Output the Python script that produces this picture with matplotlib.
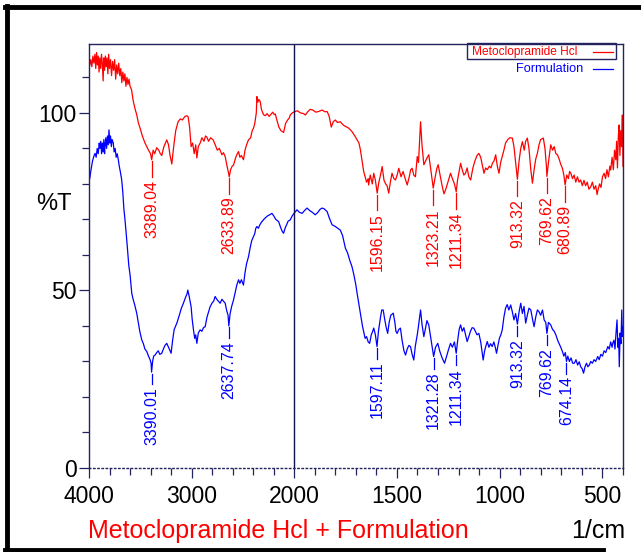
import numpy as np
import matplotlib
matplotlib.use("Agg")
import matplotlib.pyplot as plt
from matplotlib.lines import Line2D
from matplotlib.patches import Rectangle

plt.rcParams['font.family'] = ['Liberation Sans Narrow', 'Liberation Sans', 'DejaVu Sans']

# Metoclopramide Hcl spectrum (wavenumber, %T)
red_wn = [3992, 3982, 3972, 3962, 3952, 3942, 3934, 3926, 3918, 3910, 3902, 3894, 3886, 3878, 3870, 3862,
          3855, 3848, 3840, 3832, 3824, 3816, 3808, 3800, 3790, 3780, 3770, 3760, 3750, 3740, 3730, 3720,
          3710, 3700, 3690, 3680, 3670, 3660, 3650, 3640, 3630, 3620, 3610, 3600, 3585, 3570, 3550, 3535,
          3519, 3500, 3480, 3454, 3437, 3420, 3400, 3389.04, 3375, 3360, 3340, 3320, 3305, 3291, 3270, 3242,
          3225, 3210, 3193, 3175, 3155, 3132, 3110, 3090, 3065, 3045, 3034, 3020, 3005, 2990, 2975, 2960,
          2949, 2935, 2917, 2900, 2880, 2865, 2852, 2835, 2815, 2790, 2770, 2750, 2730, 2705, 2690, 2673,
          2655, 2640, 2633.89, 2620, 2605, 2592, 2570, 2555, 2543, 2530, 2515, 2495, 2480, 2465, 2446, 2425,
          2410, 2397, 2385, 2370, 2364, 2355, 2345, 2332, 2320, 2300, 2283, 2265, 2245, 2230, 2210, 2195,
          2185, 2170, 2150, 2130, 2104, 2085, 2065, 2050, 2039, 2020, 2000, 1985, 1970, 1955, 1946, 1935,
          1922, 1910, 1895, 1881, 1865, 1850, 1840, 1830, 1820, 1810, 1800, 1790, 1776, 1760, 1745, 1735,
          1720, 1705, 1694, 1685, 1678, 1670, 1662, 1655, 1648, 1640, 1638, 1630, 1620, 1613, 1605, 1596.15,
          1588, 1580, 1572, 1563, 1555, 1548, 1540, 1532, 1524, 1515, 1507, 1499, 1491, 1480, 1470, 1460,
          1450, 1440, 1433, 1426, 1418, 1410, 1401, 1395, 1385, 1378, 1369, 1360, 1352, 1345, 1335, 1323.21,
          1312, 1305, 1299, 1290, 1280, 1271, 1262, 1252, 1245, 1239, 1230, 1220, 1211.34, 1205, 1197, 1190,
          1182, 1174, 1166, 1158, 1150, 1141, 1130, 1120, 1110, 1101, 1092, 1083, 1076, 1068, 1060, 1050,
          1042, 1035, 1027, 1019, 1011, 1003, 995, 987, 979, 971, 960, 950, 938, 930, 922, 913.32,
          905, 897, 889, 880, 873, 865, 857, 848, 840, 832, 824, 816, 808, 800, 787, 779,
          772, 769.62, 760, 751, 742, 734, 726, 718, 710, 702, 694, 687, 680.89, 673, 665, 659,
          653, 645, 637, 629, 621, 613, 605, 597, 589, 581, 573, 565, 556, 548, 540, 532,
          525, 520, 513, 506, 499, 491, 484, 477, 470, 463, 459, 452, 446, 440, 434, 430,
          426, 422, 418, 414, 410, 406, 402, 399]
red_t = [113.5, 115.0, 113.0, 116.0, 114.0, 116.5, 112.5, 117.0, 113.5, 116.0, 111.5, 115.5, 112.5, 116.5, 114.0, 109.0,
         115.5, 112.0, 116.0, 113.0, 115.5, 111.0, 116.5, 112.5, 115.0, 110.5, 114.5, 112.0, 115.0, 109.5, 113.5, 111.0,
         114.0, 110.5, 112.5, 108.5, 111.5, 109.0, 111.0, 107.5, 110.0, 108.0, 109.5, 107.5, 106.5, 103.5, 101.0, 99.5,
         97.2, 95.5, 93.5, 91.5, 90.5, 89.5, 88.5, 86.8, 89.5, 88.5, 90.2, 89.5, 88.5, 88.0, 90.5, 92.4,
         91.0, 88.0, 85.6, 90.5, 95.0, 97.5, 98.3, 98.0, 99.0, 99.2, 98.9, 96.0, 90.5, 91.5, 88.5, 91.0,
         87.3, 90.5, 91.5, 93.0, 92.0, 93.5, 93.2, 92.0, 93.0, 92.4, 91.0, 89.5, 90.0, 88.2, 88.8, 87.7,
         85.0, 83.0, 82.0, 84.0, 85.0, 85.3, 87.5, 88.5, 89.1, 87.5, 88.0, 86.8, 89.5, 91.0, 92.4, 93.0,
         95.0, 95.7, 97.0, 100.0, 104.6, 103.0, 103.8, 103.2, 101.0, 99.5, 99.2, 99.8, 99.0, 99.5, 100.2, 99.5,
         99.7, 98.0, 96.0, 95.0, 94.5, 97.0, 98.0, 98.5, 99.4, 100.0, 100.3, 100.6, 100.0, 99.8, 99.4, 100.3,
         101.0, 100.8, 100.2, 100.4, 100.8, 100.3, 100.4, 99.0, 96.0, 97.5, 98.0, 97.3, 97.5, 96.5, 96.0, 95.7,
         94.8, 93.5, 92.4, 91.5, 89.6, 86.5, 83.5, 82.0, 80.5, 81.5, 79.7, 82.5, 80.0, 83.0, 81.0, 77.4,
         80.5, 82.5, 84.9, 81.0, 80.0, 79.5, 77.4, 80.5, 83.0, 81.5, 81.1, 82.5, 84.4, 82.0, 83.5, 81.5,
         79.7, 82.0, 84.0, 84.4, 82.5, 82.0, 87.7, 86.0, 97.5, 91.0, 85.4, 86.5, 87.5, 88.2, 84.0, 78.8,
         82.5, 84.5, 85.4, 82.5, 79.5, 77.2, 78.5, 80.5, 82.0, 83.0, 81.5, 80.0, 77.8, 81.0, 83.5, 85.8,
         84.0, 82.5, 83.0, 84.5, 82.0, 81.1, 84.5, 86.5, 88.0, 88.6, 87.5, 85.0, 83.0, 84.5, 84.0, 85.0,
         84.5, 85.8, 86.5, 88.2, 85.0, 83.0, 86.0, 87.7, 89.5, 91.5, 92.5, 93.0, 92.9, 90.5, 86.0, 81.3,
         86.5, 90.0, 91.9, 89.5, 92.0, 92.9, 90.0, 84.0, 80.2, 84.0, 87.0, 88.6, 91.0, 92.5, 92.9, 90.0,
         85.0, 82.1, 87.0, 91.0, 89.5, 90.5, 88.5, 88.2, 87.0, 85.5, 84.4, 82.5, 79.7, 82.5, 81.5, 83.5,
         83.0, 81.5, 82.5, 80.5, 82.0, 80.5, 81.1, 79.5, 81.0, 79.5, 80.5, 78.5, 79.2, 80.5, 78.5, 79.5,
         77.0, 78.5, 80.0, 79.0, 82.0, 83.0, 81.5, 84.0, 82.0, 85.0, 83.9, 87.5, 84.0, 89.5, 86.8, 92.0,
         84.5, 93.0, 96.6, 88.0, 95.0, 90.5, 99.4, 84.9]

# Formulation spectrum (wavenumber, %T)
blue_wn = [3992, 3980, 3965, 3950, 3941, 3930, 3920, 3910, 3900, 3893, 3885, 3877, 3870, 3862, 3855, 3848,
           3844, 3836, 3828, 3820, 3812, 3805, 3797, 3790, 3782, 3775, 3763, 3755, 3745, 3735, 3725, 3714,
           3705, 3695, 3681, 3670, 3660, 3649, 3640, 3630, 3622, 3612, 3600, 3590, 3583, 3570, 3555, 3535,
           3520, 3505, 3486, 3470, 3455, 3437, 3420, 3405, 3395, 3390.01, 3380, 3370, 3356, 3340, 3325, 3310,
           3291, 3275, 3260, 3242, 3225, 3210, 3200, 3185, 3170, 3144, 3120, 3100, 3080, 3060, 3045, 3037,
           3025, 3015, 3005, 2995, 2982, 2970, 2960, 2949, 2935, 2917, 2900, 2885, 2868, 2850, 2835, 2820,
           2800, 2785, 2771, 2755, 2740, 2722, 2705, 2690, 2673, 2660, 2645, 2637.74, 2625, 2610, 2592, 2575,
           2560, 2543, 2530, 2515, 2495, 2480, 2465, 2446, 2430, 2415, 2397, 2385, 2375, 2364, 2350, 2335,
           2320, 2300, 2280, 2260, 2240, 2218, 2200, 2180, 2153, 2130, 2115, 2104, 2090, 2075, 2060, 2039,
           2020, 2000, 1987, 1975, 1962, 1950, 1938, 1925, 1912, 1898, 1885, 1875, 1865, 1855, 1840, 1830,
           1816, 1800, 1788, 1776, 1765, 1751, 1740, 1730, 1719, 1710, 1700, 1694, 1685, 1675, 1668, 1662,
           1655, 1648, 1640, 1633, 1625, 1618, 1613, 1605, 1597.11, 1590, 1580, 1574, 1567, 1560, 1552, 1545,
           1538, 1530, 1518, 1510, 1505, 1499, 1491, 1483, 1475, 1466, 1458, 1450, 1442, 1434, 1426, 1418,
           1410, 1401, 1395, 1385, 1378, 1369, 1362, 1354, 1345, 1335, 1321.28, 1312, 1301, 1292, 1280, 1268,
           1258, 1248, 1239, 1230, 1220, 1211.34, 1204, 1197, 1190, 1182, 1174, 1166, 1158, 1150, 1142, 1134,
           1126, 1118, 1110, 1101, 1092, 1085, 1080, 1073, 1066, 1060, 1052, 1044, 1036, 1028, 1021, 1015,
           1008, 1001, 994, 987, 979, 971, 963, 955, 946, 938, 930, 922, 913.32, 905, 897, 889,
           881, 873, 865, 857, 848, 840, 832, 824, 816, 808, 800, 791, 783, 775, 769.62, 762,
           751, 742, 734, 726, 718, 710, 702, 694, 687, 680, 674.14, 668, 660, 652, 644, 636,
           628, 620, 612, 605, 598, 591, 584, 577, 570, 563, 556, 548, 540, 532, 522, 515,
           507, 499, 491, 483, 473, 466, 459, 452, 449, 443, 438, 433, 428, 424, 420, 417,
           413, 409, 405, 402, 399]
blue_t = [81.6, 84.0, 86.5, 88.0, 88.6, 87.5, 90.0, 88.5, 91.5, 90.0, 92.0, 88.5, 91.5, 89.0, 92.5, 88.5,
          90.5, 93.0, 90.0, 93.5, 91.0, 95.2, 91.5, 93.5, 90.5, 92.5, 91.5, 89.0, 90.0, 87.5, 88.5, 86.8,
          85.0, 83.5, 81.1, 77.5, 73.0, 69.9, 67.0, 63.5, 60.5, 57.0, 54.5, 51.5, 49.2, 47.5, 46.0, 43.6,
          41.0, 38.5, 36.1, 35.0, 33.5, 32.8, 31.5, 30.5, 29.5, 27.0, 30.0, 31.5, 31.8, 32.5, 33.0, 32.0,
          32.3, 33.5, 34.5, 35.1, 34.0, 33.0, 32.3, 36.0, 39.0, 40.8, 43.0, 45.0, 46.4, 48.0, 49.0, 50.1,
          48.5, 47.0, 45.4, 42.0, 38.9, 36.5, 37.5, 35.1, 38.0, 38.9, 38.5, 39.5, 39.8, 42.5, 44.0, 45.4,
          46.5, 47.0, 48.3, 47.5, 47.0, 46.4, 47.5, 47.0, 46.4, 44.5, 43.0, 40.0, 43.5, 45.5, 47.3, 49.5,
          51.5, 53.0, 52.0, 53.0, 51.5, 55.0, 57.5, 59.5, 62.0, 64.0, 65.2, 66.0, 67.5, 68.0, 67.5, 68.5,
          69.2, 69.9, 70.5, 71.0, 71.3, 71.7, 71.0, 70.0, 69.4, 67.5, 66.5, 66.1, 67.5, 68.5, 69.5, 69.9,
          71.0, 71.8, 72.7, 72.0, 71.7, 72.5, 73.2, 72.5, 72.0, 71.3, 72.0, 72.8, 73.2, 73.0, 72.2, 70.5,
          68.5, 68.0, 67.5, 67.0, 65.5, 61.9, 60.5, 58.5, 56.7, 54.5, 51.5, 49.2, 46.0, 42.5, 40.0, 38.4,
          36.5, 37.0, 35.5, 35.1, 37.5, 38.5, 39.4, 37.5, 34.2, 38.5, 42.5, 44.5, 44.5, 42.0, 39.5, 37.9,
          41.0, 43.0, 43.6, 41.0, 38.5, 37.9, 39.0, 39.4, 36.0, 33.0, 31.8, 33.5, 34.5, 34.2, 32.0, 30.4,
          34.5, 37.5, 40.0, 44.5, 40.5, 37.0, 39.0, 41.5, 40.3, 36.5, 31.4, 34.0, 35.1, 33.0, 31.0, 29.5,
          31.5, 33.5, 35.1, 34.0, 35.5, 32.3, 36.0, 39.0, 40.3, 38.5, 39.5, 37.5, 35.6, 37.0, 38.5, 39.5,
          39.4, 38.5, 37.5, 37.9, 35.5, 32.5, 30.4, 33.0, 34.5, 35.6, 34.0, 35.0, 34.2, 35.5, 34.0, 32.3,
          34.5, 36.5, 37.5, 38.9, 42.5, 45.0, 46.0, 44.5, 45.9, 44.0, 41.7, 43.5, 40.5, 44.0, 46.4, 43.5,
          45.5, 40.8, 43.0, 45.0, 44.5, 42.0, 39.8, 42.5, 44.5, 44.0, 43.0, 44.5, 41.7, 41.0, 37.9, 41.0,
          40.3, 39.0, 38.5, 37.5, 36.1, 35.0, 34.0, 32.8, 31.5, 32.5, 30.0, 31.5, 30.0, 31.0, 29.5, 29.5,
          30.5, 29.0, 29.9, 28.5, 28.0, 26.7, 28.5, 29.5, 28.5, 29.0, 30.0, 29.5, 30.5, 30.0, 31.4, 30.5,
          32.0, 31.5, 33.0, 32.5, 34.2, 33.5, 35.5, 34.0, 35.1, 36.0, 33.5, 38.0, 41.7, 34.0, 36.5, 28.5,
          38.0, 35.0, 44.5, 37.0, 39.8]

red_peaks = [3389.04, 2633.89, 1596.15, 1323.21, 1211.34, 913.32, 769.62, 680.89]
blue_peaks = [3390.01, 2637.74, 1597.11, 1321.28, 1211.34, 913.32, 769.62, 674.14]

x_major = [4000, 3000, 2000, 1500, 1000, 500]
x_minor = [3800, 3600, 3400, 3200, 2800, 2600, 2400, 2200, 1900, 1800, 1700, 1600, 1400, 1300,
           1200, 1100, 900, 800, 700, 600, 400]
y_major = [0, 50, 100]
y_minor = [10, 20, 30, 40, 60, 70, 80, 90, 110]

navy = '#23235f'


# spectrometer style axis: 4000-2000 compressed, below 2000 twice as wide
# (increasing transform, axis then inverted through the limits)
def fwd(x):
    x = np.asarray(x, dtype=float)
    return np.where(x >= 2000, (x - 4000) / 2000.0, -1 - (2000 - x) / 1000.0)


def inv(u):
    u = np.asarray(u, dtype=float)
    return np.where(u >= -1, 4000 + 2000.0 * u, 2000 + 1000.0 * (u + 1))


fig = plt.figure(figsize=(6.41, 5.52), dpi=100)
ax = fig.add_axes([0.1388, 0.1522, 0.8331, 0.7681])
ax.set_xscale('function', functions=(fwd, inv))
ax.set_xlim(4000, 399)
ax.set_ylim(0, 119.4)

ax.plot(red_wn, red_t, color='#ff0000', lw=0.9)
ax.plot(blue_wn, blue_t, color='#0000ff', lw=0.9)
ax.axvline(2000, color='#101050', lw=1.0)


def label_peaks(peaks, wn, t, color, gap):
    wn_r = np.asarray(wn)[::-1]
    t_r = np.asarray(t)[::-1]
    for p in peaks:
        yv = np.interp(p, wn_r, t_r)
        ax.plot([p, p], [yv - 0.4, yv - gap + 0.8], color=color, lw=0.9)
        ax.text(p, yv - gap, f'{p:.2f}', rotation=90, ha='center', va='top',
                color=color, fontsize=11.5)


label_peaks(red_peaks, red_wn, red_t, '#ff0000', 5.6)
label_peaks(blue_peaks, blue_wn, blue_t, '#0000ff', 4.2)

ax.set_xticks(x_major)
ax.set_xticklabels([str(v) for v in x_major])
ax.set_xticks(x_minor, minor=True)
ax.set_xticklabels([], minor=True)
ax.set_yticks(y_major)
ax.set_yticks(y_minor, minor=True)
ax.tick_params(axis='both', which='major', labelsize=16.5, color=navy, length=7, width=0.9, pad=2)
ax.tick_params(axis='x', which='major', pad=5)
ax.tick_params(axis='both', which='minor', color=navy, length=5, width=0.9)

for side in ['left', 'right', 'top']:
    ax.spines[side].set_color(navy)
    ax.spines[side].set_linewidth(1.0)
ax.spines['bottom'].set_color(navy)
ax.spines['bottom'].set_linestyle((0, (1, 2)))
ax.spines['bottom'].set_linewidth(1.0)

# legend drawn like the instrument software
fig.add_artist(Rectangle((0.7285, 0.894), 0.2325, 0.0272, transform=fig.transFigure,
                         fill=False, edgecolor=navy, lw=1.0))
fig.text(0.736, 0.9058, 'Metoclopramide Hcl', color='#ff0000', fontsize=8.6, va='center', ha='left')
fig.add_artist(Line2D([0.925, 0.956], [0.9058, 0.9058], transform=fig.transFigure,
                      color='#ff0000', lw=0.9))
fig.text(0.9095, 0.875, 'Formulation', color='#0000ff', fontsize=9.2, va='center', ha='right')
fig.add_artist(Line2D([0.925, 0.956], [0.875, 0.875], transform=fig.transFigure,
                      color='#0000ff', lw=0.9))

fig.text(0.084, 0.630, '%T', fontsize=17, ha='center', va='center')
fig.text(0.137, 0.038, 'Metoclopramide Hcl + Formulation', color='#ff0000', fontsize=18,
         ha='left', va='center')
fig.text(0.975, 0.038, '1/cm', fontsize=18, ha='right', va='center')

# outer black frame (top, left, bottom)
fig.add_artist(Line2D([0.008, 1.0], [0.987, 0.987], transform=fig.transFigure, color='black', lw=3.5))
fig.add_artist(Line2D([0.011, 0.011], [0.0, 0.99], transform=fig.transFigure, color='black', lw=3.5))
fig.add_artist(Line2D([0.008, 0.94], [0.004, 0.004], transform=fig.transFigure, color='black', lw=3.5))

fig.savefig('out.png', dpi=100)
